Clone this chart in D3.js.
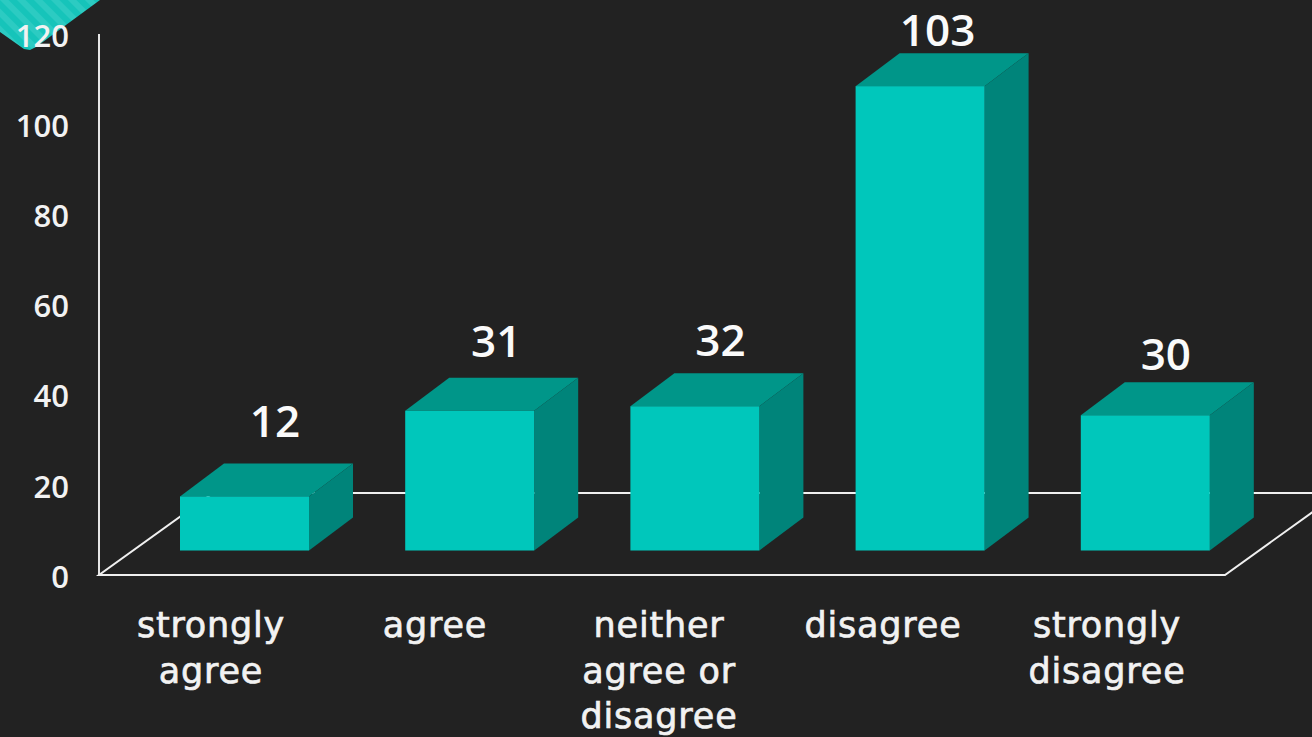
<!DOCTYPE html>
<html><head><meta charset="utf-8">
<script src="https://cdnjs.cloudflare.com/ajax/libs/d3/7.8.5/d3.min.js"></script>
<style>html,body{margin:0;padding:0;background:#222222;overflow:hidden}svg{display:block}</style>
</head><body><svg id="c" width="1312" height="737"></svg>
<script>
const categories = [["strongly","agree"],["agree"],["neither","agree or","disagree"],["disagree"],["strongly","disagree"]];
const values = [12,31,32,103,30];
const yTicks = [0,20,40,60,80,100,120];
const labelNudgeX = [95,91,90,82,85];
const labelNudgeY = [-26,-21,-17,-7,-12];

const W=1312,H=737;
const svg=d3.select("#c");
const depthX=44, depthY=33, floorX=114, floorY=82;
const y=d3.scaleLinear().domain([0,120]).range([575,34]);
const idx=d3.range(values.length);
const x=d3.scaleBand().domain(idx).range([99,1225]);
const xLab=d3.scaleBand().domain(idx).range([99,1219]);
const barW=129, barOff=81, baseLift=y(0)-550.5;
const tickFont="'Open Sans',sans-serif", catFont="'DejaVu Sans',sans-serif";

// decoration in the corner
const defs=svg.append("defs");
const p=defs.append("pattern").attr("id","st").attr("width",12).attr("height",12)
  .attr("patternUnits","userSpaceOnUse").attr("patternTransform","rotate(-45)");
p.append("rect").attr("width",12).attr("height",12).attr("fill","#16c4ba");
p.append("rect").attr("width",6).attr("height",12).attr("fill","#2ccbc2");
svg.append("path").attr("d",d3.line()([[0,0],[100,0],[36,47],[30,50],[24,49],[0,32]])+"Z").attr("fill","url(#st)");

// axes: wall line, floor
const g=svg.append("g").attr("fill","none").attr("stroke","#e6e6e6").attr("stroke-width",2);
g.append("line").attr("x1",x.range()[0]).attr("x2",x.range()[0]).attr("y1",y(120)).attr("y2",y(0));
g.append("path").attr("stroke","#f0f0f0").attr("d",d3.line()([[x.range()[0]+floorX,y(0)-floorY],[W,y(0)-floorY]]));
g.append("path").attr("stroke","#f0f0f0").attr("d",d3.line()([[x.range()[0]+floorX,y(0)-floorY],[x.range()[0],y(0)],[x.range()[1],y(0)],[x.range()[1]+floorX,y(0)-floorY]]));

// y tick labels
svg.append("g").selectAll("text").data(yTicks).join("text")
  .attr("x",69).attr("y",d=>y(d)).attr("dy","0.41em").attr("text-anchor","end")
  .attr("font-family",tickFont).attr("font-weight",600).attr("font-size",31).attr("fill","#f2f2f2").text(d=>d);

// bars
const bars=svg.append("g").selectAll("g").data(idx).join("g");
const topY=i=>y(values[i])-baseLift, bot=y(0)-baseLift, lx=i=>x(i)+barOff;
bars.append("path").attr("fill","#009689").attr("d",i=>d3.line()([[lx(i),topY(i)],[lx(i)+depthX,topY(i)-depthY],[lx(i)+barW+depthX,topY(i)-depthY],[lx(i)+barW,topY(i)]])+"Z");
bars.append("path").attr("fill","#00847a").attr("d",i=>d3.line()([[lx(i)+barW,topY(i)],[lx(i)+barW+depthX,topY(i)-depthY],[lx(i)+barW+depthX,bot-depthY],[lx(i)+barW,bot]])+"Z");
bars.append("rect").attr("fill","#00c7bb").attr("x",i=>lx(i)).attr("y",i=>topY(i)).attr("width",barW).attr("height",i=>bot-topY(i));

// value labels
svg.append("g").selectAll("text").data(idx).join("text")
  .attr("x",i=>lx(i)+labelNudgeX[i])
  .attr("y",i=>topY(i)-depthY+labelNudgeY[i]).attr("text-anchor","middle")
  .attr("font-family",tickFont).attr("font-weight",600).attr("font-size",44).attr("fill","#fafafa").text(i=>values[i]);

// category labels
const cat=svg.append("g").selectAll("text").data(idx).join("text")
  .attr("text-anchor","middle").attr("font-family",catFont).attr("font-size",35).attr("letter-spacing",0.8)
  .attr("fill","#f2f2f2").attr("stroke","#f2f2f2").attr("stroke-width",0.7);
cat.selectAll("tspan").data(i=>categories[i].map(t=>({t,i}))).join("tspan")
  .attr("x",d=>xLab(d.i)+xLab.bandwidth()/2).attr("y",(d,j)=>637+j*45.5).text(d=>d.t);
</script></body></html>
